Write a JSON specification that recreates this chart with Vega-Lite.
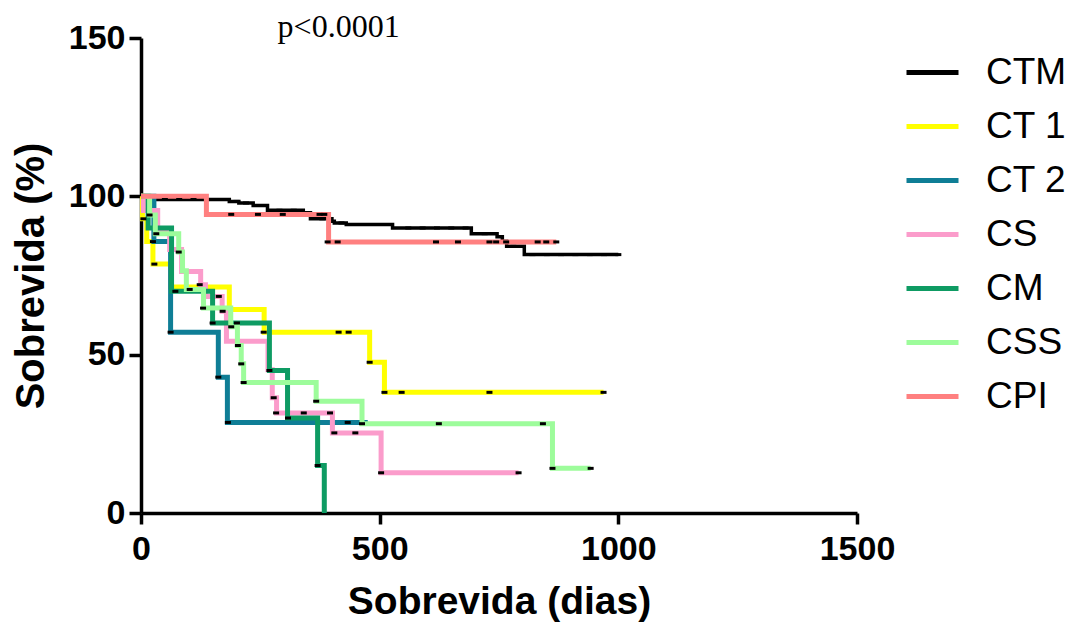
{
  "$schema": "https://vega.github.io/schema/vega-lite/v6.json",
  "width": 716,
  "height": 475,
  "autosize": {"type": "none"},
  "padding": {"left": 141, "top": 38, "right": 215, "bottom": 111},
  "background": "white",
  "config": {
    "view": {"stroke": null},
    "font": "Liberation Sans"
  },
  "datasets": {
    "curves": [
      {"group": "CTM", "day": 0, "surv": 100},
      {"group": "CTM", "day": 30, "surv": 99.0},
      {"group": "CTM", "day": 185, "surv": 98.4},
      {"group": "CTM", "day": 205, "surv": 97.9},
      {"group": "CTM", "day": 235, "surv": 97.1},
      {"group": "CTM", "day": 265, "surv": 95.6},
      {"group": "CTM", "day": 340, "surv": 94.8},
      {"group": "CTM", "day": 355, "surv": 92.9},
      {"group": "CTM", "day": 400, "surv": 92.1},
      {"group": "CTM", "day": 405, "surv": 91.6},
      {"group": "CTM", "day": 430, "surv": 91.1},
      {"group": "CTM", "day": 527, "surv": 90.0},
      {"group": "CTM", "day": 692, "surv": 88.2},
      {"group": "CTM", "day": 746, "surv": 87.2},
      {"group": "CTM", "day": 757, "surv": 85.8},
      {"group": "CTM", "day": 766, "surv": 84.2},
      {"group": "CTM", "day": 803, "surv": 81.6},
      {"group": "CTM", "day": 1000, "surv": 81.6},

      {"group": "CT 1", "day": 0, "surv": 100},
      {"group": "CT 1", "day": 3, "surv": 92.9},
      {"group": "CT 1", "day": 12, "surv": 85.7},
      {"group": "CT 1", "day": 25, "surv": 78.6},
      {"group": "CT 1", "day": 62, "surv": 71.4},
      {"group": "CT 1", "day": 185, "surv": 64.3},
      {"group": "CT 1", "day": 258, "surv": 57.1},
      {"group": "CT 1", "day": 479, "surv": 47.6},
      {"group": "CT 1", "day": 510, "surv": 38.1},
      {"group": "CT 1", "day": 969, "surv": 38.1},

      {"group": "CT 2", "day": 0, "surv": 100},
      {"group": "CT 2", "day": 27, "surv": 85.7},
      {"group": "CT 2", "day": 62, "surv": 57.1},
      {"group": "CT 2", "day": 162, "surv": 42.9},
      {"group": "CT 2", "day": 181, "surv": 28.6},
      {"group": "CT 2", "day": 475, "surv": 28.6},

      {"group": "CS", "day": 0, "surv": 100},
      {"group": "CS", "day": 5, "surv": 95.5},
      {"group": "CS", "day": 35, "surv": 88.6},
      {"group": "CS", "day": 60, "surv": 83.2},
      {"group": "CS", "day": 85, "surv": 76.3},
      {"group": "CS", "day": 125, "surv": 72.1},
      {"group": "CS", "day": 135, "surv": 68.4},
      {"group": "CS", "day": 170, "surv": 63.7},
      {"group": "CS", "day": 179, "surv": 54.2},
      {"group": "CS", "day": 266, "surv": 45.2},
      {"group": "CS", "day": 275, "surv": 36.4},
      {"group": "CS", "day": 284, "surv": 31.6},
      {"group": "CS", "day": 401, "surv": 25.3},
      {"group": "CS", "day": 503, "surv": 12.7},
      {"group": "CS", "day": 791, "surv": 12.7},

      {"group": "CM", "day": 0, "surv": 100},
      {"group": "CM", "day": 15, "surv": 90.0},
      {"group": "CM", "day": 64, "surv": 70.0},
      {"group": "CM", "day": 150, "surv": 60.0},
      {"group": "CM", "day": 269, "surv": 45.0},
      {"group": "CM", "day": 307, "surv": 30.0},
      {"group": "CM", "day": 370, "surv": 15.0},
      {"group": "CM", "day": 384, "surv": 0},

      {"group": "CSS", "day": 0, "surv": 100},
      {"group": "CSS", "day": 18, "surv": 94.1},
      {"group": "CSS", "day": 30, "surv": 88.2},
      {"group": "CSS", "day": 79, "surv": 82.4},
      {"group": "CSS", "day": 87, "surv": 76.5},
      {"group": "CSS", "day": 95, "surv": 70.6},
      {"group": "CSS", "day": 131, "surv": 64.7},
      {"group": "CSS", "day": 188, "surv": 58.8},
      {"group": "CSS", "day": 202, "surv": 52.9},
      {"group": "CSS", "day": 210, "surv": 47.1},
      {"group": "CSS", "day": 215, "surv": 41.2},
      {"group": "CSS", "day": 367, "surv": 35.3},
      {"group": "CSS", "day": 463, "surv": 28.2},
      {"group": "CSS", "day": 862, "surv": 14.1},
      {"group": "CSS", "day": 942, "surv": 14.1},

      {"group": "CPI", "day": 0, "surv": 100},
      {"group": "CPI", "day": 137, "surv": 94.3},
      {"group": "CPI", "day": 393, "surv": 85.6},
      {"group": "CPI", "day": 870, "surv": 85.6}
    ],
    "censored": [
      {"group": "CTM", "day": 50, "surv": 99.0},
      {"group": "CTM", "day": 80, "surv": 99.0},
      {"group": "CTM", "day": 110, "surv": 99.0},
      {"group": "CTM", "day": 160, "surv": 99.0},
      {"group": "CTM", "day": 200, "surv": 98.4},
      {"group": "CTM", "day": 220, "surv": 97.9},
      {"group": "CTM", "day": 250, "surv": 97.1},
      {"group": "CTM", "day": 290, "surv": 95.6},
      {"group": "CTM", "day": 320, "surv": 95.6},
      {"group": "CTM", "day": 380, "surv": 92.9},
      {"group": "CTM", "day": 420, "surv": 91.6},
      {"group": "CTM", "day": 460, "surv": 91.1},
      {"group": "CTM", "day": 500, "surv": 91.1},
      {"group": "CTM", "day": 560, "surv": 90.0},
      {"group": "CTM", "day": 590, "surv": 90.0},
      {"group": "CTM", "day": 620, "surv": 90.0},
      {"group": "CTM", "day": 650, "surv": 90.0},
      {"group": "CTM", "day": 680, "surv": 90.0},
      {"group": "CTM", "day": 720, "surv": 88.2},
      {"group": "CTM", "day": 780, "surv": 84.2},
      {"group": "CTM", "day": 820, "surv": 81.6},
      {"group": "CTM", "day": 850, "surv": 81.6},
      {"group": "CTM", "day": 880, "surv": 81.6},
      {"group": "CTM", "day": 910, "surv": 81.6},
      {"group": "CTM", "day": 940, "surv": 81.6},
      {"group": "CTM", "day": 970, "surv": 81.6},
      {"group": "CTM", "day": 1000, "surv": 81.6},

      {"group": "CT 1", "day": 5, "surv": 92.9},
      {"group": "CT 1", "day": 28, "surv": 78.6},
      {"group": "CT 1", "day": 257, "surv": 57.1},
      {"group": "CT 1", "day": 414, "surv": 57.1},
      {"group": "CT 1", "day": 435, "surv": 57.1},
      {"group": "CT 1", "day": 479, "surv": 47.6},
      {"group": "CT 1", "day": 510, "surv": 38.1},
      {"group": "CT 1", "day": 546, "surv": 38.1},
      {"group": "CT 1", "day": 730, "surv": 38.1},
      {"group": "CT 1", "day": 969, "surv": 38.1},

      {"group": "CT 2", "day": 25, "surv": 85.7},
      {"group": "CT 2", "day": 62, "surv": 57.1},
      {"group": "CT 2", "day": 162, "surv": 42.9},
      {"group": "CT 2", "day": 182, "surv": 28.6},
      {"group": "CT 2", "day": 433, "surv": 28.6},

      {"group": "CS", "day": 123, "surv": 72.1},
      {"group": "CS", "day": 163, "surv": 68.4},
      {"group": "CS", "day": 171, "surv": 63.7},
      {"group": "CS", "day": 278, "surv": 36.4},
      {"group": "CS", "day": 283, "surv": 31.6},
      {"group": "CS", "day": 341, "surv": 31.6},
      {"group": "CS", "day": 396, "surv": 31.6},
      {"group": "CS", "day": 405, "surv": 25.3},
      {"group": "CS", "day": 449, "surv": 25.3},
      {"group": "CS", "day": 503, "surv": 12.7},
      {"group": "CS", "day": 791, "surv": 12.7},

      {"group": "CM", "day": 72, "surv": 70.0},
      {"group": "CM", "day": 150, "surv": 60.0},
      {"group": "CM", "day": 201, "surv": 60.0},
      {"group": "CM", "day": 269, "surv": 45.0},
      {"group": "CM", "day": 308, "surv": 30.0},
      {"group": "CM", "day": 370, "surv": 15.0},

      {"group": "CSS", "day": 18, "surv": 94.1},
      {"group": "CSS", "day": 32, "surv": 88.2},
      {"group": "CSS", "day": 79, "surv": 82.4},
      {"group": "CSS", "day": 102, "surv": 70.6},
      {"group": "CSS", "day": 130, "surv": 64.7},
      {"group": "CSS", "day": 189, "surv": 58.8},
      {"group": "CSS", "day": 203, "surv": 52.9},
      {"group": "CSS", "day": 210, "surv": 47.1},
      {"group": "CSS", "day": 215, "surv": 41.2},
      {"group": "CSS", "day": 367, "surv": 35.3},
      {"group": "CSS", "day": 463, "surv": 28.2},
      {"group": "CSS", "day": 624, "surv": 28.2},
      {"group": "CSS", "day": 842, "surv": 28.2},
      {"group": "CSS", "day": 862, "surv": 14.1},
      {"group": "CSS", "day": 942, "surv": 14.1},

      {"group": "CPI", "day": 189, "surv": 94.3},
      {"group": "CPI", "day": 245, "surv": 94.3},
      {"group": "CPI", "day": 297, "surv": 94.3},
      {"group": "CPI", "day": 374, "surv": 94.3},
      {"group": "CPI", "day": 384, "surv": 94.3},
      {"group": "CPI", "day": 391, "surv": 85.6},
      {"group": "CPI", "day": 412, "surv": 85.6},
      {"group": "CPI", "day": 618, "surv": 85.6},
      {"group": "CPI", "day": 664, "surv": 85.6},
      {"group": "CPI", "day": 730, "surv": 85.6},
      {"group": "CPI", "day": 744, "surv": 85.6},
      {"group": "CPI", "day": 765, "surv": 85.6},
      {"group": "CPI", "day": 831, "surv": 85.6},
      {"group": "CPI", "day": 849, "surv": 85.6},
      {"group": "CPI", "day": 870, "surv": 85.6}
    ],
    "note": [
      {"label": "p<0.0001", "day": 414, "surv": 150.4}
    ]
  },
  "layer": [
    {
      "data": {"name": "curves"},
      "mark": {"type": "line", "interpolate": "step-after", "clip": false},
      "encoding": {
        "x": {
          "field": "day",
          "type": "quantitative",
          "scale": {"domain": [0, 1500], "nice": false},
          "axis": {
            "title": "Sobrevida (dias)",
            "values": [0, 500, 1000, 1500],
            "format": "d",
            "grid": false,
            "domainColor": "black",
            "domainWidth": 3.5,
            "tickColor": "black",
            "tickWidth": 3.5,
            "tickSize": 11,
            "labelFont": "Liberation Sans",
            "labelFontWeight": "bold",
            "labelFontSize": 34,
            "labelColor": "black",
            "labelPadding": 8,
            "labelFlush": false,
            "labelOverlap": false,
            "titleFont": "Liberation Sans",
            "titleFontWeight": "bold",
            "titleFontSize": 39,
            "titleColor": "black",
            "titlePadding": 16
          }
        },
        "y": {
          "field": "surv",
          "type": "quantitative",
          "scale": {"domain": [0, 150], "nice": false},
          "axis": {
            "title": "Sobrevida (%)",
            "values": [0, 50, 100, 150],
            "grid": false,
            "domainColor": "black",
            "domainWidth": 3.5,
            "tickColor": "black",
            "tickWidth": 3.5,
            "tickSize": 12,
            "labelFont": "Liberation Sans",
            "labelFontWeight": "bold",
            "labelFontSize": 34,
            "labelColor": "black",
            "labelPadding": 4,
            "labelFlush": false,
            "labelOverlap": false,
            "titleFont": "Liberation Sans",
            "titleFontWeight": "bold",
            "titleFontSize": 40,
            "titleColor": "black",
            "titlePadding": 17
          }
        },
        "color": {
          "field": "group",
          "type": "nominal",
          "sort": null,
          "scale": {
            "domain": ["CTM", "CT 1", "CT 2", "CS", "CM", "CSS", "CPI"],
            "range": ["#000000", "#ffff00", "#0f7e96", "#fb9ccb", "#0e9b63", "#9dfc9b", "#ff8080"]
          },
          "legend": {
            "title": null,
            "orient": "none",
            "legendX": 763,
            "legendY": 6,
            "padding": 0,
            "symbolType": "stroke",
            "symbolSize": 2704,
            "symbolStrokeWidth": 5,
            "labelFont": "Liberation Sans",
            "labelFontSize": 37,
            "labelColor": "black",
            "labelOffset": 25,
            "rowPadding": 7
          }
        },
        "strokeWidth": {
          "condition": {"test": "datum.group === 'CTM'", "value": 3.5},
          "value": 5
        }
      }
    },
    {
      "data": {"name": "censored"},
      "mark": {"type": "tick", "orient": "horizontal", "color": "black", "size": 6, "thickness": 3, "opacity": 1, "clip": false},
      "encoding": {
        "x": {"field": "day", "type": "quantitative"},
        "y": {"field": "surv", "type": "quantitative"}
      }
    },
    {
      "data": {"name": "note"},
      "mark": {"type": "text", "font": "Liberation Serif", "fontSize": 32, "baseline": "alphabetic", "align": "center", "color": "black", "clip": false},
      "encoding": {
        "x": {"field": "day", "type": "quantitative"},
        "y": {"field": "surv", "type": "quantitative"},
        "text": {"field": "label"}
      }
    }
  ]
}
